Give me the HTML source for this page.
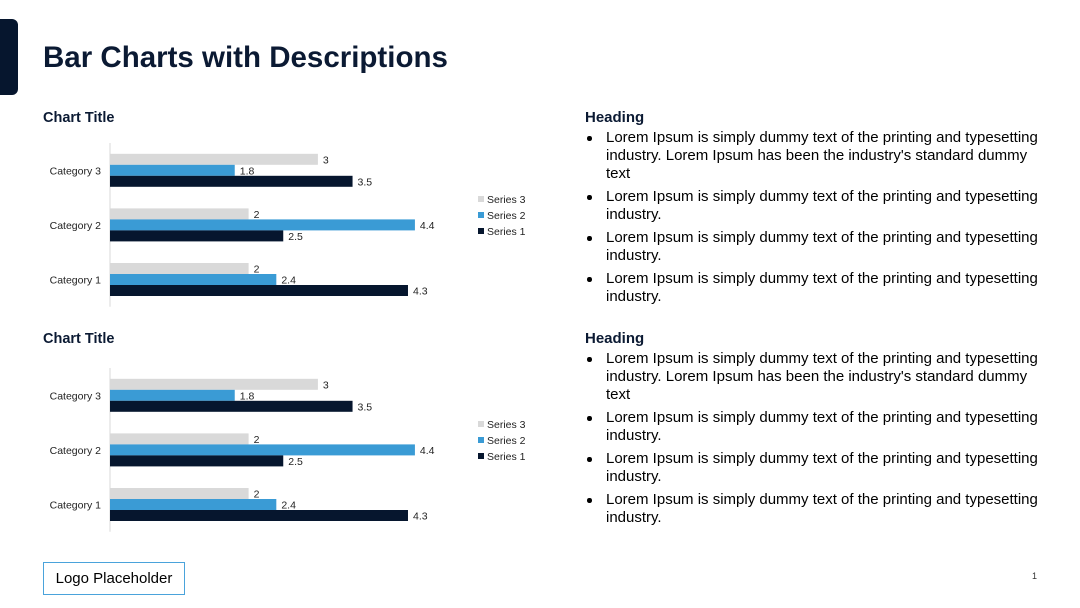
<!DOCTYPE html>
<html><head><meta charset="utf-8">
<style>
body{margin:0;width:1080px;height:608px;background:#fff;position:relative;overflow:hidden;font-family:"Liberation Sans",sans-serif;color:#0b1a33}
.abs{position:absolute}
#tab{left:0;top:19px;width:18px;height:76px;background:#06162e;border-radius:0 6px 6px 0}
#title{left:43px;top:41px;font-size:29.5px;font-weight:bold;white-space:nowrap}
.ct{font-size:14.5px;font-weight:bold;left:43px}
.hd{font-size:15px;font-weight:bold;left:585px}
ul{position:absolute;left:585px;margin:0;padding:0;list-style:none;width:461px;font-size:15px;line-height:18px;color:#000}
li{position:relative;padding-left:21px;margin-bottom:5px}
li:before{content:"";position:absolute;left:2px;top:7px;width:4.5px;height:4.5px;border-radius:50%;background:#000}
#logo{left:43px;top:562px;width:140px;height:31px;border:1px solid #4aa3db;font-size:15px;color:#000;line-height:31px;text-align:center}
#pg{left:1032px;top:571px;font-size:9px;color:#333}
svg text{font-family:"Liberation Sans",sans-serif}
</style></head><body>
<div class="abs" id="tab"></div>
<div class="abs" id="title">Bar Charts with Descriptions</div>

<div class="abs ct" style="top:110px">Chart Title</div>
<div class="abs ct" style="top:331px">Chart Title</div>

<svg id="charts" class="abs" style="left:0;top:0" width="1080" height="608"></svg>

<div class="abs hd" style="top:109px">Heading</div>
<ul style="top:129px">
<li>Lorem Ipsum is simply dummy text of the printing and typesetting industry. Lorem Ipsum has been the industry's standard dummy text</li>
<li>Lorem Ipsum is simply dummy text of the printing and typesetting industry.</li>
<li>Lorem Ipsum is simply dummy text of the printing and typesetting industry.</li>
<li>Lorem Ipsum is simply dummy text of the printing and typesetting industry.</li>
</ul>
<div class="abs hd" style="top:330px">Heading</div>
<ul style="top:350px">
<li>Lorem Ipsum is simply dummy text of the printing and typesetting industry. Lorem Ipsum has been the industry's standard dummy text</li>
<li>Lorem Ipsum is simply dummy text of the printing and typesetting industry.</li>
<li>Lorem Ipsum is simply dummy text of the printing and typesetting industry.</li>
<li>Lorem Ipsum is simply dummy text of the printing and typesetting industry.</li>
</ul>

<div class="abs" id="logo">Logo Placeholder</div>
<div class="abs" id="pg">1</div>

<script>
const categories = ["Category 1","Category 2","Category 3"];
const series1 = [4.3, 2.5, 3.5];
const series2 = [2.4, 4.4, 1.8];
const series3 = [2, 2, 3];
const seriesNames = ["Series 1","Series 2","Series 3"];
const seriesColors = ["#06162e","#3a9bd5","#d9d9d9"];

const NS = "http://www.w3.org/2000/svg";
const svg = document.getElementById('charts');
function mk(tag, attrs, parent){
  const e = document.createElementNS(NS, tag);
  for (const k in attrs) e.setAttribute(k, attrs[k]);
  parent.appendChild(e); return e;
}
function drawChart(offY, idx){
  const g = mk('g', {}, svg);
  
  
  const x0 = 110, pxPerUnit = 69.3;
  const xs = v => x0 + v * pxPerUnit;
  const top = 143 + offY, band = 54.6, barH = 11;
  const bandTop = i => top + (categories.length - 1 - i) * band;
  const axis = mk('line', {x1:x0, x2:x0, y1:top, y2:top + band*categories.length, stroke:'#d9d9d9', 'stroke-width':1}, g);
  
  
  const all = [series1, series2, series3];
  categories.forEach((c, i) => {
    const bt = bandTop(i);
    const groupTop = bt + (band - 3*barH)/2;
    const lab = mk('text', {x:101, y:groupTop + 1.5*barH + 4, 'font-size':10.5, 'text-anchor':'end', fill:'#222'}, g);
    lab.textContent = c;
    
    
    [2,1,0].forEach((s, k) => {
      const y = groupTop + k*barH;
      const v = all[s][i];
      const r = mk('rect', {x:x0, y:y, width:xs(v)-x0, height:barH, fill:seriesColors[s]}, g);
      
      
      const t = mk('text', {x:xs(v)+5, y:y + barH/2 + 4, 'font-size':10.5, fill:'#222'}, g);
      t.textContent = v;
      
      
    });
  });
  [2,1,0].forEach((s, k) => {
    const y = 196 + offY + k*16;
    const sq = mk('rect', {x:478, y:y, width:6, height:6, fill:seriesColors[s]}, g);
    
    
    const t = mk('text', {x:487, y:y+7, 'font-size':10.5, fill:'#222'}, g);
    t.textContent = seriesNames[s];
    
    
  });
}
drawChart(0, 1);
drawChart(225, 2);
</script>
</body></html>
